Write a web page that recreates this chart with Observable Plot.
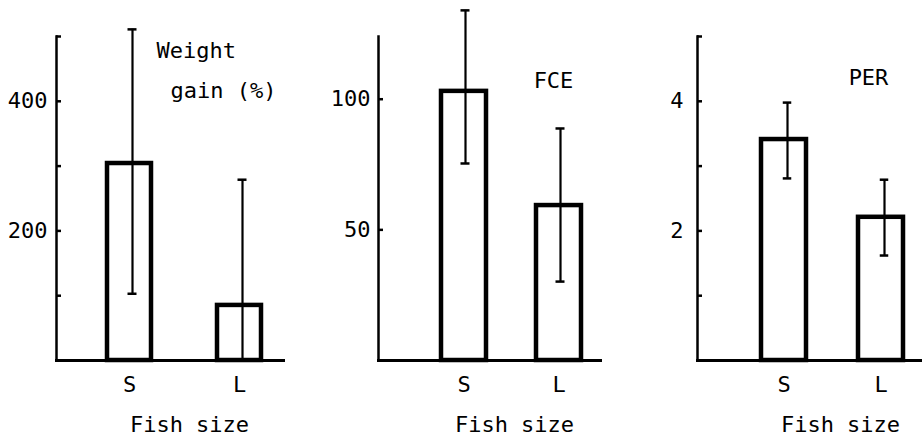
<!DOCTYPE html>
<html><head><meta charset="utf-8">
<script src="https://cdn.jsdelivr.net/npm/d3@7"></script>
<script src="https://cdn.jsdelivr.net/npm/@observablehq/plot@0.6"></script>
<style>
html,body{margin:0;padding:0;background:#fff;}
#chart{position:relative;width:922px;height:437px;overflow:hidden;background:#fff;}
</style></head><body><div id="chart"></div>
<script>
// ---- data ----
const fishSizes = ["S", "L"];
const weightGainMean = [304, 85];
const weightGainLow = [103, 0];
const weightGainHigh = [511, 279];
const fceMean = [103, 59.3];
const fceLow = [75.4, 30.2];
const fceHigh = [134, 88.8];
const perMean = [3.41, 2.21];
const perLow = [2.81, 1.62];
const perHigh = [3.98, 2.79];
const weightTicks = [100, 200, 300, 400, 500];
const weightTickLabels = [200, 400];
const fceTicks = [50, 100];
const fceTickLabels = [50, 100];
const perTicks = [1, 2, 3, 4, 5];
const perTickLabels = [2, 4];
const xAxisTitle = "Fish size";
const weightTitle1 = "Weight";
const weightTitle2 = "gain (%)";
const fceTitle = "FCE";
const perTitle = "PER";

function panel(c) {
  const data = fishSizes.map((s, i) => ({size: s, mean: c.mean[i], lo: c.lo[i], hi: c.hi[i]}));
  const capInset = (c.bw - 9) / 2;
  const capOpts = {x: "size", stroke: "black", strokeWidth: 2.5, insetLeft: capInset, insetRight: capInset, dx: c.errDx};
  return Plot.plot({
    width: c.width, height: 437,
    marginLeft: c.marginLeft, marginRight: c.marginRight, marginTop: 36, marginBottom: 77,
    style: {position: "absolute", left: c.left + "px", top: "0px", fontFamily: "DejaVu Sans Mono", fontSize: "22px", background: "transparent", color: "black", overflow: "visible"},
    x: {type: "band", domain: fishSizes, paddingInner: c.pi, paddingOuter: c.po, align: c.align},
    y: {domain: [0, c.yMax]},
    marks: [
      Plot.barY(data, {x: "size", y: "mean", fill: "white", stroke: "black", strokeWidth: 4.5}),
      Plot.ruleX(data, {x: "size", y1: "lo", y2: "hi", stroke: "black", strokeWidth: 2.2, dx: c.errDx}),
      Plot.tickY(data, {...capOpts, y: "hi"}),
      Plot.tickY(data.filter(d => d.lo > 0), {...capOpts, y: "lo"}),
      Plot.frame({anchor: "left", strokeWidth: 2.5}),
      Plot.frame({anchor: "bottom", strokeWidth: 3}),
      Plot.axisY({ticks: c.ticks, tickSize: 5, dx: 5, tickFormat: () => "", strokeWidth: 2.5, label: null}),
      Plot.axisY({ticks: c.labels, tickSize: 0, tickPadding: c.tickPad, tickFormat: d => String(d), label: null}),
      Plot.axisX({tickSize: 0, tickPadding: 16, label: null}),
      Plot.text([xAxisTitle], {frameAnchor: "bottom-left", dx: c.xlabDx, dy: 64, textAnchor: "middle", lineAnchor: "middle"}),
      ...c.titles
    ]
  });
}

const chart = document.getElementById("chart");
chart.append(panel({
  left: 0, width: 310, marginLeft: 56, marginRight: 27,
  pi: 0.602, po: 0.328, align: 0.703, bw: 44, errDx: 3,
  yMax: 500, mean: weightGainMean, lo: weightGainLow, hi: weightGainHigh,
  ticks: weightTicks, labels: weightTickLabels, tickPad: 9, xlabDx: 133,
  titles: [
    Plot.text([weightTitle1], {frameAnchor: "top-left", dx: 100, dy: 14, textAnchor: "start", lineAnchor: "middle"}),
    Plot.text([weightTitle2], {frameAnchor: "top-left", dx: 114, dy: 54, textAnchor: "start", lineAnchor: "middle"})
  ]
}));
chart.append(panel({
  left: 310, width: 300, marginLeft: 68, marginRight: 10,
  pi: 0.529, po: 0.424, align: 0.765, bw: 45, errDx: 1.5,
  yMax: 124, mean: fceMean, lo: fceLow, hi: fceHigh,
  ticks: fceTicks, labels: fceTickLabels, tickPad: 8, xlabDx: 136,
  titles: [
    Plot.text([fceTitle], {frameAnchor: "top-left", dx: 175, dy: 44, textAnchor: "middle", lineAnchor: "middle"})
  ]
}));
chart.append(panel({
  left: 610, width: 312, marginLeft: 87, marginRight: 0,
  pi: 0.533, po: 0.4205, align: 0.771, bw: 45.5, errDx: 3.5,
  yMax: 5, mean: perMean, lo: perLow, hi: perHigh,
  ticks: perTicks, labels: perTickLabels, tickPad: 14, xlabDx: 143,
  titles: [
    Plot.text([perTitle], {frameAnchor: "top-left", dx: 171, dy: 41, textAnchor: "middle", lineAnchor: "middle"})
  ]
}));
</script></body></html>
